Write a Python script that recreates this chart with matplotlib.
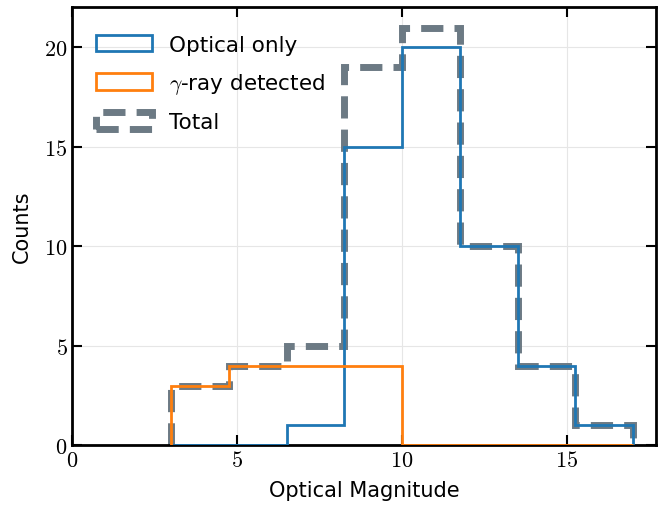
import matplotlib
matplotlib.use("Agg")
import matplotlib.pyplot as plt
from matplotlib.patches import Patch

plt.rcParams["mathtext.fontset"] = "cm"
plt.rcParams["font.family"] = ["DejaVu Sans"]

# bin edges and counts
edges = [3.0, 4.75, 6.5, 8.25, 10.0, 11.75, 13.5, 15.25, 17.0]
optical_only = [0, 0, 1, 15, 20, 10, 4, 1]
gamma_detected = [3, 4, 4, 4, 0, 0, 0, 0]
total = [3, 4, 5, 19, 21, 10, 4, 1]

x_ticks = [0, 5, 10, 15]
y_ticks = [0, 5, 10, 15, 20]

blue, orange, grey = "#1f77b4", "#ff7f0e", "#6c7a84"
dash = (0, (3.2, 1.6))

fig, ax = plt.subplots(figsize=(6.58, 5.10), dpi=100)

ax.stairs(optical_only, edges, color=blue, lw=2, zorder=3)
ax.stairs(gamma_detected, edges, color=orange, lw=2, zorder=3)
ax.stairs(total, edges, color=grey, lw=5, ls=dash, zorder=2)

ax.set_xlim(0, 17.7)
ax.set_ylim(0, 22.05)
ax.set_xticks(x_ticks)
ax.set_yticks(y_ticks)
ax.set_xticklabels([r"$%d$" % t for t in x_ticks])
ax.set_yticklabels([r"$%d$" % t for t in y_ticks])
ax.tick_params(direction="in", top=True, right=True, length=7, width=1.5, labelsize=16)
for s in ax.spines.values():
    s.set_linewidth(2)
ax.grid(True, color="#e6e6e6", lw=0.8)
ax.set_axisbelow(True)

ax.set_xlabel("Optical Magnitude", fontsize=15)
ax.set_ylabel("Counts", fontsize=15)
ax.yaxis.set_label_coords(-0.07, 0.5)
ax.xaxis.set_label_coords(0.5, -0.08)

handles = [
    Patch(facecolor="none", edgecolor=blue, lw=2, label="Optical only"),
    Patch(facecolor="none", edgecolor=orange, lw=2, label=r"$\gamma$-ray detected"),
    Patch(facecolor="none", edgecolor=grey, lw=5, ls=dash, label="Total"),
]
ax.legend(handles=handles, loc="upper left", bbox_to_anchor=(-0.008, 1),
          frameon=False, fontsize=15.5, handlelength=2.6, handleheight=0.8,
          labelspacing=0.75, borderaxespad=0.9)

fig.subplots_adjust(left=0.11, right=0.997, top=0.985, bottom=0.125)
fig.savefig("out.png", dpi=100)
